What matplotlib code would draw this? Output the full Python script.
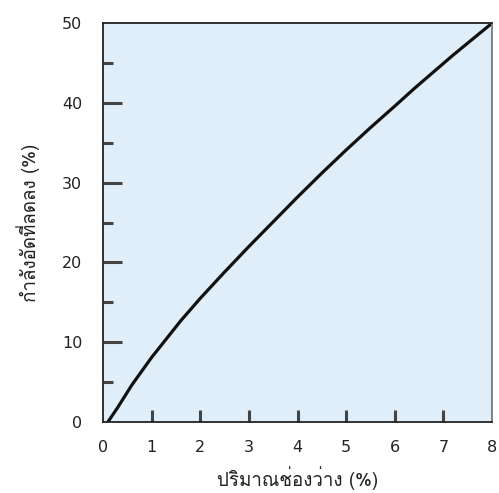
import matplotlib
matplotlib.use("Agg")
import matplotlib.pyplot as plt
from matplotlib import font_manager
from matplotlib.ft2font import FT2Font
from matplotlib.ticker import FixedLocator

# values
void_pct = [0.1, 0.3, 0.6, 1.0, 1.3, 1.6, 2.0, 2.5, 3.0, 3.5,
            4.0, 4.5, 5.0, 5.5, 6.0, 6.4, 6.8, 7.2, 7.6, 8.0]
strength_loss = [0.0, 1.8, 4.7, 8.1, 10.4, 12.7, 15.5, 18.8, 22.0, 25.1,
                 28.2, 31.2, 34.1, 36.9, 39.6, 41.8, 43.9, 46.0, 48.0, 50.0]

x_ticks = [0, 1, 2, 3, 4, 5, 6, 7, 8]
y_ticks = [0, 10, 20, 30, 40, 50]
y_minor = [5, 15, 25, 35, 45]

x_label = "ปริมาณช่องว่าง (%)"
y_label = "กำลังอัดที่ลดลง (%)"


def find_thai_family():
    # look for any installed font that actually has Thai glyphs
    for f in font_manager.fontManager.ttflist:
        try:
            if 0x0E01 in FT2Font(f.fname).get_charmap():
                return f.name
        except Exception:
            pass
    return None


thai = find_thai_family()
families = ([thai] if thai else []) + ["DejaVu Sans"]

fig = plt.figure(figsize=(4.99, 4.93), dpi=100)
ax = fig.add_axes([0.2064, 0.144, 0.7796, 0.809])
ax.set_facecolor("#dfeef9")

ax.plot(void_pct, strength_loss, color="#111111", lw=2.3, solid_capstyle="round")

ax.set_xlim(0, 8)
ax.set_ylim(0, 50)
ax.xaxis.set_major_locator(FixedLocator(x_ticks))
ax.yaxis.set_major_locator(FixedLocator(y_ticks))
ax.yaxis.set_minor_locator(FixedLocator(y_minor))

ax.tick_params(axis="x", which="major", direction="in", length=9, width=2.2,
               color="#444444", pad=13, labelsize=11.5, labelcolor="#222222")
ax.tick_params(axis="y", which="major", direction="in", length=14, width=2.2,
               color="#444444", pad=15, labelsize=11.5, labelcolor="#222222")
ax.tick_params(axis="y", which="minor", direction="in", length=7, width=2.2,
               color="#444444")

fig.canvas.draw()
# no tick marks at the corners, only the labels
for axis, ends in ((ax.xaxis, (0, 8)), (ax.yaxis, (0, 50))):
    for t in axis.get_major_ticks():
        if t.get_loc() in ends:
            t.tick1line.set_visible(False)

for side in ["left", "bottom", "top"]:
    ax.spines[side].set_color("#222222")
    ax.spines[side].set_linewidth(1.3)
ax.spines["right"].set_color("#777777")
ax.spines["right"].set_linewidth(1.3)

ax.set_xlabel(x_label, family=families, fontsize=13.5, color="#222222", labelpad=8)
ax.set_ylabel(y_label, family=families, fontsize=13.5, color="#222222", labelpad=16)

fig.savefig("out.png", dpi=100, facecolor="white")
